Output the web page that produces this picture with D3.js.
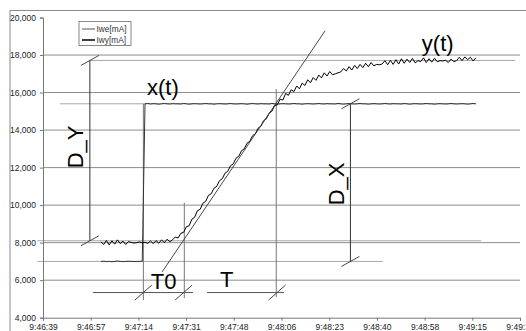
<!DOCTYPE html>
<html>
<head>
<meta charset="utf-8">
<script src="https://d3js.org/d3.v7.min.js"></script>
<style>
  body { margin: 0; background: #fff; }
  svg { display: block; font-family: "Liberation Sans", Arial, sans-serif; }
</style>
</head>
<body>
<svg width="526" height="331"></svg>
<script>
  // Time axis labels (one every 17.3 s starting 9:46:39)
  const xTickLabels = ["9:46:39", "9:46:57", "9:47:14", "9:47:31", "9:47:48", "9:48:06",
                       "9:48:23", "9:48:40", "9:48:58", "9:49:15", "9:49:32"];
  const tickStepSec = 17.3;
  const yTicks = [4000, 6000, 8000, 10000, 12000, 14000, 16000, 18000, 20000];
  const gridValues = [6000, 8000, 10000, 12000, 14000, 16000, 18000];

  // samples: one per second, first sample 21 s after 9:46:39
  const sampleStart = 21;
  const sampleStep = 1;

  // Iwe[mA] = x(t)
  const iwe = [
    7000, 7010, 6990, 7000, 6980, 7000, 7020, 7000, 6990, 7000,
    7010, 7000, 6990, 7000, 7000, 7010,
    15400, 15420, 15390, 15410, 15400, 15380, 15400, 15420, 15400, 15390,
    15410, 15400, 15400, 15390, 15420, 15400, 15380, 15400, 15410, 15400,
    15390, 15400, 15420, 15400, 15400, 15380, 15400, 15410, 15400, 15390,
    15400, 15420, 15400, 15390, 15400, 15410, 15400, 15380, 15400, 15420,
    15400, 15390, 15410, 15400, 15400, 15390, 15420, 15400, 15380, 15400,
    15410, 15400, 15390, 15400, 15420, 15400, 15400, 15380, 15400, 15410,
    15400, 15390, 15400, 15420, 15400, 15390, 15410, 15400, 15400, 15390,
    15420, 15400, 15380, 15400, 15410, 15400, 15390, 15400, 15420, 15400,
    15400, 15380, 15400, 15410, 15400, 15390, 15400, 15420, 15400, 15390,
    15410, 15400, 15400, 15390, 15420, 15400, 15380, 15400, 15410, 15400,
    15390, 15400, 15420, 15400, 15400, 15380, 15400, 15410, 15400, 15390,
    15400, 15420, 15400, 15390, 15400, 15410, 15400, 15380, 15400, 15420,
    15400
  ];

  // Iwy[mA] = y(t)
  const iwy = [
    8050, 7900, 8120, 7880, 8100, 7920, 8150, 7950, 8080, 7900,
    8060, 8010, 7980, 8000, 8040, 7990, 8020, 7960, 8090, 7950,
    8110, 7970, 8150, 8000, 8180, 8050, 8150, 8300, 8250, 8500,
    8550, 8850, 8900, 9250, 9350, 9700, 9780, 10100, 10200, 10520,
    10600, 10900, 11000, 11300, 11400, 11700, 11800, 12100, 12200, 12500,
    12600, 12900, 13000, 13300, 13400, 13700, 13800, 14100, 14200, 14500,
    14600, 14900, 15000, 15300, 15350, 15650, 15600, 15950, 15850, 16150,
    16050, 16350, 16200, 16500, 16380, 16680, 16520, 16800, 16650, 16930,
    16780, 17050, 16880, 17120, 16950, 17000, 17050, 17100, 17280, 17150,
    17380, 17200, 17450, 17280, 17500, 17330, 17560, 17380, 17600, 17420,
    17500, 17480, 17520, 17700, 17480, 17720, 17500, 17750, 17520, 17800,
    17560, 17780, 17600, 17820, 17580, 17700, 17650, 17850, 17600, 17800,
    17620, 17830, 17640, 17700, 17680, 17720, 17600, 17780, 17650, 17700,
    17880, 17700, 17900, 17750, 17880, 17680, 17850
  ];

  // construction lines, in data units (seconds, mA)
  const refLines = [
    { v: 17710, t0: 17.0, t1: 171.2 },
    { v: 15400, t0: 6.2, t1: 157.0 },
    { v: 8100, t0: -2.0, t1: 158.9 },
    { v: 7000, t0: -2.0, t1: 123.3 }
  ];
  const timeLine = { v: 5340, parts: [[18.1, 54.4], [59.5, 87.4]] };
  const markers = [
    { t: 36.4, v0: 15400, v1: 4940 },
    { t: 51.25, v0: 10130, v1: 5050 },
    { t: 84.6, v0: 16190, v1: 5100 }
  ];
  const timeSlashes = [36.4, 51.0, 84.9];
  const dimLines = [
    { t: 17.0, v0: 17710, v1: 8100 },
    { t: 111.5, v0: 15400, v1: 7000 }
  ];
  const tangent = { t0: 43.2, v0: 6440, t1: 102.3, v1: 19290 };
  const labels = [
    { text: "x(t)", t: 37.7, v: 15870, rot: false },
    { text: "y(t)", t: 137.4, v: 18240, rot: false },
    { text: "T0", t: 39.1, v: 5510, rot: false },
    { text: "T", t: 64.2, v: 5620, rot: false },
    { text: "D_Y", t: 14.5, v: 13100, rot: true },
    { text: "D_X", t: 109.2, v: 11130, rot: true }
  ];

  const svg = d3.select("svg");
  const x = d3.scaleLinear().domain([0, 173]).range([43, 520]);
  const y = d3.scaleLinear().domain([4000, 20000]).range([317.7, 17.5]);

  // chart border (top/left)
  svg.append("path").attr("d", "M10,526 V10.5 H526")
    .attr("fill", "none").attr("stroke", "#8a8a8a");

  // gridlines
  svg.append("g").selectAll("line").data(gridValues).join("line")
    .attr("x1", x(0)).attr("x2", x(173))
    .attr("y1", d => y(d)).attr("y2", d => y(d))
    .attr("stroke", "#8c8c8c").attr("stroke-width", 1);

  // reference lines
  svg.append("g").selectAll("line").data(refLines).join("line")
    .attr("x1", d => x(d.t0)).attr("x2", d => x(d.t1))
    .attr("y1", d => y(d.v)).attr("y2", d => y(d.v))
    .attr("stroke", "#a8a8a8").attr("stroke-width", 1);

  timeLine.parts.forEach(p => {
    svg.append("line")
      .attr("x1", x(p[0])).attr("x2", x(p[1]))
      .attr("y1", y(timeLine.v)).attr("y2", y(timeLine.v))
      .attr("stroke", "#555").attr("stroke-width", 1);
  });

  svg.append("g").selectAll("line").data(markers).join("line")
    .attr("x1", d => x(d.t)).attr("x2", d => x(d.t))
    .attr("y1", d => y(d.v0)).attr("y2", d => y(d.v1))
    .attr("stroke", "#777").attr("stroke-width", 1);

  // axes
  const yAxis = svg.append("g").attr("transform", `translate(${x(0)},0)`)
    .call(d3.axisLeft(y).tickValues(yTicks).tickFormat(d3.format(",")).tickSize(3).tickPadding(4));
  const xAxis = svg.append("g").attr("transform", `translate(0,${y(4000)})`)
    .call(d3.axisBottom(x).tickValues(xTickLabels.map((_, i) => i * tickStepSec))
      .tickFormat((d, i) => xTickLabels[i]).tickSize(3).tickPadding(3));
  [yAxis, xAxis].forEach(a => {
    a.select(".domain").attr("stroke", "#777");
    a.selectAll(".tick line").attr("stroke", "#777");
    a.selectAll("text").attr("font-size", 8.5).attr("fill", "#222")
      .attr("font-family", "'Liberation Sans', Arial, sans-serif");
  });

  // data series
  const line = d3.line()
    .x((d, i) => x(sampleStart + i * sampleStep))
    .y(d => y(d));
  svg.append("path").datum(iwe).attr("d", line)
    .attr("fill", "none").attr("stroke", "#333").attr("stroke-width", 1);
  svg.append("path").datum(iwy).attr("d", line)
    .attr("fill", "none").attr("stroke", "#000").attr("stroke-width", 1);

  // tangent
  svg.append("line")
    .attr("x1", x(tangent.t0)).attr("y1", y(tangent.v0))
    .attr("x2", x(tangent.t1)).attr("y2", y(tangent.v1))
    .attr("stroke", "#333").attr("stroke-width", 0.9);

  // dimension lines with slashes
  dimLines.forEach(d => {
    svg.append("line")
      .attr("x1", x(d.t)).attr("x2", x(d.t))
      .attr("y1", y(d.v0)).attr("y2", y(d.v1))
      .attr("stroke", "#333").attr("stroke-width", 1);
    [d.v0, d.v1].forEach(v => {
      svg.append("line")
        .attr("x1", x(d.t) - 9).attr("y1", y(v) + 5)
        .attr("x2", x(d.t) + 9).attr("y2", y(v) - 5)
        .attr("stroke", "#333").attr("stroke-width", 0.9);
    });
  });
  timeSlashes.forEach(t => {
    svg.append("line")
      .attr("x1", x(t) - 8.5).attr("y1", y(timeLine.v) + 7.5)
      .attr("x2", x(t) + 8.5).attr("y2", y(timeLine.v) - 7.5)
      .attr("stroke", "#333").attr("stroke-width", 0.9);
  });

  // legend
  const lg = svg.append("g").attr("transform", "translate(79,21.5)");
  lg.append("rect").attr("width", 52).attr("height", 24)
    .attr("fill", "#fff").attr("stroke", "#888");
  [["Iwe[mA]", "#555", 1], ["Iwy[mA]", "#000", 1.5]].forEach((s, i) => {
    lg.append("line").attr("x1", 3).attr("x2", 16)
      .attr("y1", 7.5 + i * 11).attr("y2", 7.5 + i * 11)
      .attr("stroke", s[1]).attr("stroke-width", s[2]);
    lg.append("text").attr("x", 17.5).attr("y", 10.5 + i * 11)
      .attr("font-size", 8.3).attr("fill", "#333").text(s[0]);
  });

  // annotation labels
  svg.append("g").selectAll("text").data(labels).join("text")
    .attr("transform", d => `translate(${x(d.t)},${y(d.v)})` + (d.rot ? " rotate(-90)" : ""))
    .attr("text-anchor", d => d.rot ? "middle" : "start")
    .attr("font-size", 22).attr("fill", "#000")
    .text(d => d.text);
</script>
</body>
</html>
